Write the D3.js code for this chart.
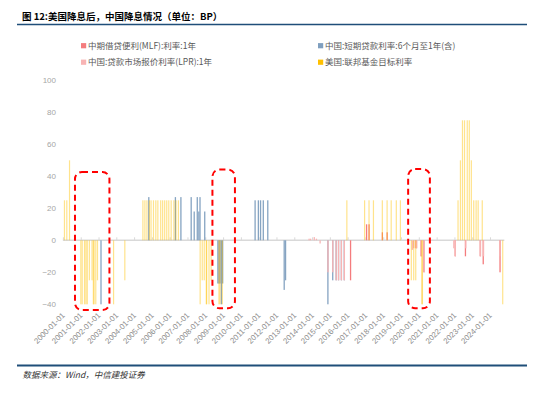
<!DOCTYPE html>
<html>
<head>
<meta charset="utf-8">
<script src="https://cdn.jsdelivr.net/npm/d3@7"></script>
<style>
  body { margin: 0; background: #fff; }
  svg text { font-family: "Noto Sans CJK SC", "Liberation Sans", sans-serif; }
</style>
</head>
<body>
<div id="chart"></div>
<script>
// series names (legend order)
const seriesNames = [
  '中期借贷便利(MLF):利率:1年',
  '中国:短期贷款利率:6个月至1年(含)',
  '中国:贷款市场报价利率(LPR):1年',
  '美国:联邦基金目标利率'
];

// MLF 1Y rate changes (bp)
const mlfDates = ['2016-03-01', '2017-01-24', '2017-03-16', '2017-12-14', '2018-03-22', '2019-11-05',
  '2020-02-17', '2020-04-15', '2022-01-17', '2022-08-15', '2023-06-15', '2023-08-15', '2024-07-25'];
const mlfValues = [-25, 10, 10, 5, 5, -5, -10, -20, -10, -10, -10, -15, -20];

// short-term loan rate 6m-1y changes (bp)
const loanDates = ['2002-02-21', '2004-10-29', '2006-04-28', '2006-08-19', '2007-03-18', '2007-05-19',
  '2007-07-21', '2007-08-22', '2007-09-15', '2007-12-21', '2008-09-16', '2008-10-09', '2008-10-30',
  '2008-11-27', '2008-12-23', '2010-10-20', '2010-12-26', '2011-02-09', '2011-04-06', '2011-07-07',
  '2012-06-08', '2012-07-06', '2014-11-22', '2015-03-01', '2015-05-11', '2015-06-28', '2015-08-26',
  '2015-10-24'];
const loanValues = [-54, 27, 27, 27, 27, 18, 27, 18, 27, 18, -27, -27, -27, -108, -27,
  25, 25, 25, 25, 25, -31, -25, -40, -25, -25, -25, -25, -25];

// LPR 1Y changes (bp)
const lprDates = ['2013-11-01', '2013-12-01', '2014-02-15', '2014-04-01', '2014-06-15', '2014-11-24',
  '2015-03-02', '2015-05-11', '2015-06-29', '2015-08-26', '2015-10-26', '2019-08-20', '2019-09-20',
  '2019-11-20', '2020-02-20', '2020-04-20', '2021-12-20', '2022-01-20', '2022-08-22', '2023-06-20',
  '2023-08-21', '2024-07-22'];
const lprValues = [1, 1, 2, 1, -2, -20, -20, -25, -25, -25, -25, -6, -5, -5, -10, -20, -5, -10, -5,
  -10, -10, -10];

// US fed funds target changes (bp)
const usDates = ['2000-02-02', '2000-03-21', '2000-05-16', '2001-01-03', '2001-01-31', '2001-03-20',
  '2001-04-18', '2001-05-15', '2001-06-27', '2001-08-21', '2001-09-17', '2001-10-02', '2001-11-06',
  '2001-12-11', '2002-11-06', '2003-06-25', '2004-06-30', '2004-08-10', '2004-09-21', '2004-11-10',
  '2004-12-14', '2005-02-02', '2005-03-22', '2005-05-03', '2005-06-30', '2005-08-09', '2005-09-20',
  '2005-11-01', '2005-12-13', '2006-01-31', '2006-03-28', '2006-05-10', '2006-06-29', '2007-09-18',
  '2007-10-31', '2007-12-11', '2008-01-22', '2008-01-30', '2008-03-18', '2008-04-30', '2008-10-08',
  '2008-10-29', '2008-12-16', '2015-12-16', '2016-12-14', '2017-03-15', '2017-06-14', '2017-12-13',
  '2018-03-21', '2018-06-13', '2018-09-26', '2018-12-19', '2019-07-31', '2019-09-18', '2019-10-30',
  '2020-03-03', '2020-03-15', '2022-03-16', '2022-05-04', '2022-06-15', '2022-07-27', '2022-09-21',
  '2022-11-02', '2022-12-14', '2023-02-01', '2023-03-22', '2023-05-03', '2023-07-26', '2024-09-18'];
const usValues = [25, 25, 50, -50, -50, -50, -50, -50, -25, -25, -50, -50, -50, -25, -50, -25,
  25, 25, 25, 25, 25, 25, 25, 25, 25, 25, 25, 25, 25, 25, 25, 25, 25,
  -50, -25, -25, -75, -50, -75, -25, -50, -50, -100,
  25, 25, 25, 25, 25, 25, 25, 25, 25, -25, -25, -25, -50, -100,
  25, 50, 75, 75, 75, 75, 50, 25, 25, 25, 25, -50];

const yTicks = [100, 80, 60, 40, 20, 0, -20, -40];
const xTickLabels = ['2000-01-01', '2001-01-01', '2002-01-01', '2003-01-01', '2004-01-01', '2005-01-01',
  '2006-01-01', '2007-01-01', '2008-01-01', '2009-01-01', '2010-01-01', '2011-01-01', '2012-01-01',
  '2013-01-01', '2014-01-01', '2015-01-01', '2016-01-01', '2017-01-01', '2018-01-01', '2019-01-01',
  '2020-01-01', '2021-01-01', '2022-01-01', '2023-01-01', '2024-01-01'];
const axisEnd = '2024-10-01';

// highlighted periods (date span, value span)
const boxDates = [['2000-09-05', '2002-08-13'], ['2008-05-27', '2009-09-01'], ['2019-05-27', '2020-08-15']];
const boxValues = [[42.7, -43.6], [44.2, -42.5], [44.5, -42.5]];

const colors = ['#f47c7e', '#7f9fbf', '#f8b4b4', '#ffc000'];

const parse = d3.utcParse('%Y-%m-%d');

const svg = d3.select('#chart').append('svg')
  .attr('width', 550)
  .attr('height', 397);

// header
svg.append('text')
  .attr('x', 22)
  .attr('y', 19.5)
  .style('font-size', '9.5px')
  .style('font-weight', 'bold')
  .attr('fill', '#000')
  .text('图 12:美国降息后，中国降息情况（单位：BP）');

svg.append('line')
  .attr('x1', 17).attr('x2', 527)
  .attr('y1', 24.5).attr('y2', 24.5)
  .attr('stroke', '#1f4e79')
  .attr('stroke-width', 1.5);

// scales
const x = d3.scaleUtc()
  .domain([parse(xTickLabels[0]), parse(xTickLabels[xTickLabels.length - 1])])
  .range([62.9, 490]);

const y = d3.scaleLinear()
  .domain([-40, 100])
  .range([304.3, 80.3])
  .clamp(true);
const yFree = y.copy().clamp(false);

// y axis
const yAxisG = svg.append('g')
  .attr('transform', 'translate(62,0)')
  .call(d3.axisLeft(y).tickValues(yTicks).tickSize(0).tickPadding(6));
yAxisG.select('.domain').remove();
yAxisG.selectAll('text')
  .style('font-family', '"Liberation Sans", Arial, sans-serif')
  .style('font-size', '8px')
  .attr('fill', '#a6a6a6');

// zero line + year ticks
svg.append('line')
  .attr('x1', x(parse(xTickLabels[0])))
  .attr('x2', x(parse(axisEnd)) + 1)
  .attr('y1', y(0)).attr('y2', y(0))
  .attr('stroke', '#d9d9d9')
  .attr('stroke-width', 1.5);

const tickG = svg.append('g')
  .attr('transform', 'translate(0,' + y(0) + ')')
  .call(d3.axisTop(x).tickValues(xTickLabels.map(parse)).tickSize(3).tickFormat(''));
tickG.select('.domain').remove();
tickG.selectAll('line').attr('stroke', '#d9d9d9');

// x axis labels
const xAxisG = svg.append('g')
  .attr('transform', 'translate(0,304)')
  .call(d3.axisBottom(x).tickValues(xTickLabels.map(parse)).tickSize(0).tickFormat(d3.utcFormat('%Y-%m-%d')));
xAxisG.select('.domain').remove();
xAxisG.selectAll('text')
  .style('font-family', '"Liberation Sans", Arial, sans-serif')
  .style('font-size', '7.8px')
  .attr('fill', '#8c8c8c')
  .attr('text-anchor', 'end')
  .attr('x', 0)
  .attr('y', 0)
  .attr('dy', '0.35em')
  .attr('transform', 'translate(0,10) rotate(-45)');

// bars
function drawSeries(dates, values, color, opacity, width) {
  const data = dates.map((d, i) => ({ date: parse(d), value: values[i] }));
  svg.append('g')
    .selectAll('rect')
    .data(data)
    .enter()
    .append('rect')
    .attr('x', d => x(d.date) - width / 2)
    .attr('width', width)
    .attr('y', d => Math.min(y(d.value), y(0)))
    .attr('height', d => Math.abs(y(d.value) - y(0)))
    .attr('fill', color)
    .attr('fill-opacity', opacity);
}

drawSeries(mlfDates, mlfValues, colors[0], 1, 1.3);
drawSeries(loanDates, loanValues, colors[1], 0.95, 1.3);
drawSeries(lprDates, lprValues, colors[2], 1, 1.3);
drawSeries(usDates, usValues, colors[3], 0.45, 1.2);

// highlight boxes
boxDates.forEach((b, i) => {
  const x0 = x(parse(b[0])), x1 = x(parse(b[1]));
  const y0 = yFree(boxValues[i][0]), y1 = yFree(boxValues[i][1]);
  svg.append('rect')
    .attr('x', x0)
    .attr('y', y0)
    .attr('width', x1 - x0)
    .attr('height', y1 - y0)
    .attr('rx', 7)
    .attr('fill', 'none')
    .attr('stroke', '#ff0000')
    .attr('stroke-width', 2)
    .attr('stroke-dasharray', '6,4');
});

// legend
const legendPos = [[81, 45.7], [318, 45.7], [81, 62.2], [318, 62.2]];
const legendOrder = [0, 1, 2, 3];
legendOrder.forEach(i => {
  const g = svg.append('g')
    .attr('transform', 'translate(' + legendPos[i][0] + ',' + legendPos[i][1] + ')');
  g.append('rect')
    .attr('x', 0).attr('y', -2.6)
    .attr('width', 5.2).attr('height', 5.2)
    .attr('fill', colors[i]);
  g.append('text')
    .attr('x', 7)
    .attr('y', 0)
    .attr('dy', '0.35em')
    .style('font-size', '8.5px')
    .attr('fill', '#595959')
    .text(seriesNames[i]);
});

// footer
svg.append('line')
  .attr('x1', 17).attr('x2', 527)
  .attr('y1', 365.5).attr('y2', 365.5)
  .attr('stroke', '#1f4e79')
  .attr('stroke-width', 2);

svg.append('text')
  .attr('x', 22.5)
  .attr('y', 377.5)
  .style('font-size', '8.5px')
  .style('font-style', 'italic')
  .attr('fill', '#333')
  .text('数据来源：Wind，中信建投证券');
</script>
</body>
</html>
